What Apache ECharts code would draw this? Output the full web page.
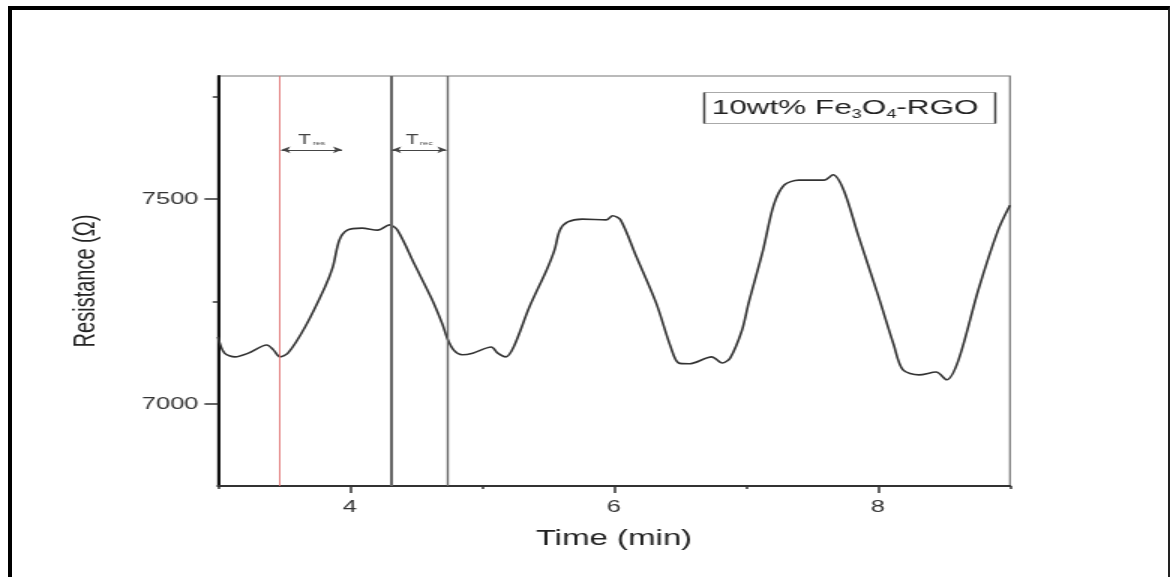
<!DOCTYPE html>
<html>
<head>
<meta charset="utf-8">
<script src="https://cdn.jsdelivr.net/npm/echarts@6/dist/echarts.min.js"></script>
<style>
    html, body { margin: 0; padding: 0; background: #fff; }
    #frame {
        position: absolute; left: 8px; top: 6px; width: 1162px; height: 600px;
        border-top: 4px solid #000; border-left: 4px solid #000; border-right: 2px solid #222;
        box-sizing: border-box;
    }
    /* the original picture is stretched sideways, so is the chart */
    #main {
        position: absolute; left: 0; top: 0; width: 780px; height: 577px;
        transform: scaleX(1.5); transform-origin: 0 0;
    }
</style>
</head>
<body>
<div id="frame"></div>
<div id="main"></div>
<script>
    // 时间 (min) 与 电阻 (Ω)
    var timeMin = [3.00, 3.05, 3.13, 3.23, 3.37, 3.42, 3.47, 3.53, 3.66, 3.81, 3.87, 3.92, 3.98, 4.09, 4.21, 4.30, 4.36, 4.49, 4.62, 4.70, 4.74,
        4.79, 4.85, 4.93, 5.07, 5.12, 5.18, 5.24, 5.36, 5.49, 5.55, 5.59, 5.65, 5.76, 5.94, 5.99, 6.05, 6.17, 6.32, 6.43, 6.49,
        6.57, 6.74, 6.82, 6.88, 6.97, 7.02, 7.13, 7.21, 7.29, 7.40, 7.59, 7.66, 7.74, 7.85, 8.00, 8.12, 8.19, 8.31, 8.44, 8.52,
        8.61, 8.76, 8.91, 9.00];
    var resistance = [7164, 7124, 7115, 7124, 7144, 7132, 7115, 7124, 7188, 7285, 7334, 7400, 7424, 7429, 7424, 7437, 7424, 7340, 7256, 7195, 7158,
        7130, 7120, 7124, 7139, 7124, 7115, 7139, 7237, 7327, 7376, 7424, 7444, 7451, 7449, 7459, 7449, 7359, 7246, 7139, 7100,
        7098, 7115, 7100, 7112, 7180, 7246, 7376, 7485, 7534, 7546, 7546, 7559, 7522, 7412, 7266, 7144, 7083, 7071, 7078, 7059,
        7107, 7278, 7424, 7485];

    // 刻度
    var xMajorTicks = [4, 6, 8];
    var xMinorTicks = [3, 5, 7, 9];
    var yMajorTicks = [7000, 7500];
    var yMinorTicks = [7250, 7750];

    // 竖线: 红线 + 两条灰线
    var markTimes = [3.47, 4.31, 4.74];
    // T_res / T_rec 双箭头
    var resSpan = [3.48, 3.94];
    var recSpan = [4.32, 4.73];
    var arrowLevel = 7620;

    var chart = echarts.init(document.getElementById('main'));

    var txt = '#333';
    var font = 'Liberation Sans, Arial, sans-serif';

    function spanLine(span, sub) {
        return [{
            coord: [span[0], arrowLevel],
            label: {
                show: true,
                position: 'insideMiddleTop',
                distance: 3,
                formatter: '{t|T}{s|' + sub + '}',
                rich: {
                    t: { fontSize: 14, color: '#444', fontFamily: font },
                    s: { fontSize: 6, color: '#444', fontFamily: font, padding: [8, 0, 0, 1] }
                }
            }
        }, {
            coord: [span[1], arrowLevel]
        }];
    }

    var option = {
        animation: false,
        grid: {
            left: 145.3,
            right: 106.7,
            top: 76,
            bottom: 91,
            show: true,
            borderColor: '#777',
            borderWidth: 1.2
        },
        xAxis: [{
            type: 'value',
            min: 3,
            max: 9,
            position: 'bottom',
            name: 'Time (min)',
            nameLocation: 'middle',
            nameGap: 42,
            nameTextStyle: { fontSize: 22, color: '#222', fontFamily: font },
            axisLine: { show: true, lineStyle: { color: '#333', width: 2 } },
            axisTick: { show: true, customValues: xMajorTicks, length: 7, lineStyle: { color: '#333', width: 1.5 } },
            axisLabel: {
                customValues: xMajorTicks, margin: 13, fontSize: 17, color: txt, fontFamily: font,
                formatter: function (v) { return String(v); }
            },
            splitLine: { show: false }
        }, {
            type: 'value',
            min: 3,
            max: 9,
            position: 'bottom',
            offset: 0,
            axisLine: { show: false },
            axisTick: { show: true, customValues: xMinorTicks, length: 3, lineStyle: { color: '#333', width: 1.5 } },
            axisLabel: { show: false },
            splitLine: { show: false }
        }],
        yAxis: [{
            type: 'value',
            min: 6800,
            max: 7800,
            position: 'left',
            name: 'Resistance (Ω)',
            nameLocation: 'middle',
            nameGap: 78,
            nameTextStyle: { fontSize: 20, color: '#222', fontFamily: font },
            axisLine: { show: true, lineStyle: { color: '#111', width: 2 } },
            axisTick: { show: true, customValues: yMajorTicks, length: 9, lineStyle: { color: '#333', width: 1.5 } },
            axisLabel: {
                customValues: yMajorTicks, margin: 13, fontSize: 17, color: txt, fontFamily: font,
                formatter: function (v) { return String(v); }
            },
            splitLine: { show: false }
        }, {
            type: 'value',
            min: 6800,
            max: 7800,
            position: 'left',
            offset: 0,
            axisLine: { show: false },
            axisTick: { show: true, customValues: yMinorTicks, length: 3.5, lineStyle: { color: '#333', width: 1.5 } },
            axisLabel: { show: false },
            splitLine: { show: false }
        }],
        graphic: [{
            type: 'group',
            left: 467,
            top: 90,
            children: [{
                type: 'rect',
                shape: { x: 0, y: 0, width: 194, height: 31 },
                style: { fill: '#fff', stroke: '#aaa', lineWidth: 1 }
            }, {
                type: 'line',
                shape: { x1: 0, y1: 0, x2: 0, y2: 31 },
                style: { stroke: '#444', lineWidth: 1.5 }
            }, {
                type: 'line',
                shape: { x1: 194, y1: 0, x2: 194, y2: 31 },
                style: { stroke: '#444', lineWidth: 1.5 }
            }, {
                type: 'text',
                x: 5,
                y: 16,
                style: {
                    text: '{a|10wt% Fe}{b|3}{a|O}{b|4}{a|-RGO}',
                    verticalAlign: 'middle',
                    rich: {
                        a: { fontSize: 21, fill: '#222', fontFamily: font },
                        b: { fontSize: 12, fill: '#222', fontFamily: font, padding: [12, 0, 0, 0] }
                    }
                }
            }]
        }],
        series: [{
            type: 'line',
            data: timeMin.map(function (t, i) { return [t, resistance[i]]; }),
            smooth: 0.3,
            showSymbol: false,
            lineStyle: { color: '#333', width: 1.6 },
            markLine: {
                silent: true,
                symbol: 'none',
                label: { show: false },
                data: markTimes.map(function (t, i) {
                    return {
                        xAxis: t,
                        lineStyle: i === 0
                            ? { color: '#e07070', width: 0.9, type: 'solid' }
                            : { color: '#666', width: i === 1 ? 2 : 1.4, type: 'solid' }
                    };
                })
            }
        }, {
            type: 'line',
            data: [],
            markLine: {
                silent: true,
                symbol: ['arrow', 'arrow'],
                symbolSize: [5, 6],
                lineStyle: { color: '#444', width: 1, type: 'solid' },
                data: [spanLine(resSpan, 'res'), spanLine(recSpan, 'rec')]
            }
        }]
    };
    chart.setOption(option);
</script>
</body>
</html>
